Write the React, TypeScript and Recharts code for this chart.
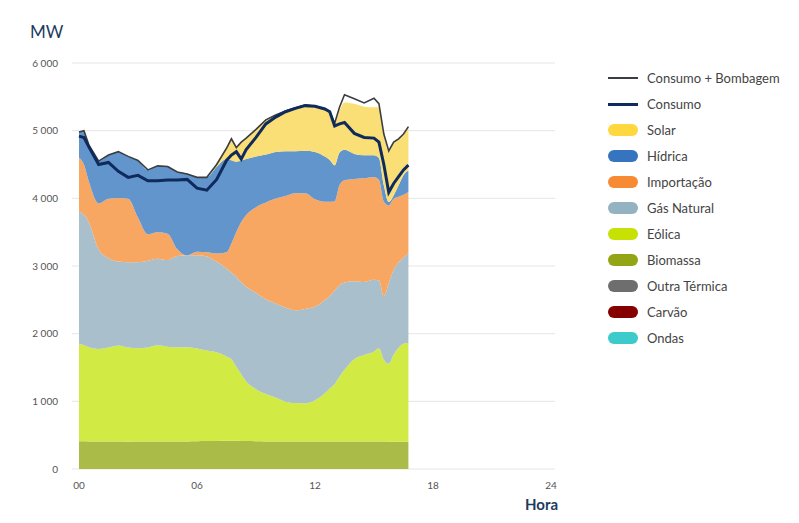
import React from 'react';
import { AreaChart, Area, Line, XAxis, YAxis, CartesianGrid } from 'recharts';

// hours of the day (quarter/half-hour samples)
const hours = [0, 0.25, 0.5, 1, 1.5, 2, 2.5, 3, 3.5, 4, 4.5, 5, 5.5, 6, 6.5, 7, 7.5, 7.75, 8, 8.25, 8.5,
  9, 9.5, 10, 10.5, 11, 11.5, 12, 12.5, 12.75, 13, 13.25, 13.5, 14, 14.5, 15, 15.25, 15.5, 15.75,
  16, 16.25, 16.5, 16.75];

const ondas = hours.map(() => 0);
const carvao = hours.map(() => 0);
const outraTermica = hours.map(() => 0);
const biomassa = [410, 410, 408, 405, 405, 405, 404, 405, 406, 408, 408, 408, 408, 410, 412, 415, 418, 418, 416, 414, 412,
  410, 408, 406, 405, 405, 405, 406, 408, 408, 408, 408, 407, 406, 405, 405, 405, 405, 404, 403, 402, 402, 402];
const eolica = [1440, 1420, 1390, 1370, 1390, 1420, 1390, 1380, 1390, 1420, 1400, 1390, 1390, 1370, 1340, 1310, 1245, 1205, 1095, 985, 880,
  770, 700, 650, 590, 570, 565, 610, 710, 780, 850, 960, 1060, 1220, 1280, 1330, 1380, 1210, 1150, 1290, 1390, 1450, 1460];
const gasNatural = [1950, 1930, 1850, 1470, 1320, 1240, 1260, 1270, 1280, 1280, 1280, 1350, 1360, 1380, 1390, 1340, 1300, 1280, 1330, 1360, 1400,
  1420, 1400, 1390, 1390, 1370, 1395, 1380, 1380, 1370, 1380, 1350, 1290, 1150, 1080, 1060, 1000, 940, 1190, 1250, 1260, 1270, 1330];
const importacao = [800, 740, 600, 680, 880, 940, 940, 660, 390, 390, 390, 100, 0, 50, 60, 120, 240, 430, 660, 890, 1060,
  1270, 1430, 1550, 1650, 1730, 1710, 1590, 1450, 1390, 1320, 1480, 1510, 1510, 1530, 1520, 1490, 1400, 1150, 1050, 970, 930, 900];
const hidrica = [380, 500, 540, 620, 640, 680, 620, 840, 950, 980, 1000, 1140, 1210, 1100, 1110, 1280, 1380, 1230, 1040, 910, 830,
  750, 710, 690, 660, 620, 630, 700, 670, 620, 530, 480, 450, 370, 340, 320, 320, 240, 50, 50, 170, 290, 320];
const solar = [0, 0, 0, 0, 0, 0, 0, 0, 0, 0, 0, 0, 0, 0, 0, 40, 160, 320, 210, 270, 310,
  400, 510, 540, 590, 640, 670, 670, 700, 710, 620, 620, 700, 740, 720, 710, 750, 750, 750, 780, 680, 600, 640];

const consumoBombagem = [4980, 5000, 4790, 4550, 4640, 4690, 4620, 4560, 4420, 4480, 4470, 4390, 4360, 4310, 4310, 4500, 4740, 4880, 4750, 4830, 4890,
  5020, 5160, 5230, 5290, 5340, 5380, 5360, 5320, 5280, 5110, 5350, 5530, 5470, 5410, 5480, 5400, 4950, 4700, 4830, 4880, 4950, 5060];
const consumo = [4920, 4900, 4760, 4500, 4530, 4400, 4310, 4340, 4260, 4260, 4270, 4270, 4280, 4150, 4120, 4280, 4560, 4640, 4690, 4580, 4720,
  4900, 5100, 5200, 5280, 5330, 5370, 5360, 5320, 5280, 5070, 5100, 5120, 4960, 4900, 4890, 4830, 4500, 4090, 4220, 4320, 4420, 4490];

const yTicks = [0, 1000, 2000, 3000, 4000, 5000, 6000];
const xTicks = [0, 6, 12, 18, 24];

// stacking order bottom → top
const AREAS = [
  { key: 'Ondas', values: ondas, fill: '#3fcfcf', swatch: '#3ccaca' },
  { key: 'Carvão', values: carvao, fill: '#8a0a0a', swatch: '#870000' },
  { key: 'Outra Térmica', values: outraTermica, fill: '#777777', swatch: '#6e6e6e' },
  { key: 'Biomassa', values: biomassa, fill: '#abbb48', swatch: '#93a514' },
  { key: 'Eólica', values: eolica, fill: '#d2ea44', swatch: '#c6e103' },
  { key: 'Gás Natural', values: gasNatural, fill: '#a9bfcb', swatch: '#93b3c3' },
  { key: 'Importação', values: importacao, fill: '#f8a763', swatch: '#f68b34' },
  { key: 'Hídrica', values: hidrica, fill: '#6395cd', swatch: '#3674bf' },
  { key: 'Solar', values: solar, fill: '#fadf76', swatch: '#fed83e' },
];

const data = hours.map((h, i) => {
  const row: Record<string, number> = { h, cb: consumoBombagem[i], consumo: consumo[i] };
  for (const a of AREAS) row[a.key] = a.values[i];
  return row;
});

const FONT = 'Lato, "Open Sans", sans-serif';

function ChartLegend() {
  const items = [
    { name: 'Consumo + Bombagem', kind: 'line', color: '#3a3d42', w: 2 },
    { name: 'Consumo', kind: 'line', color: '#0f2a5c', w: 3 },
    ...[...AREAS].reverse().map(a => ({ name: a.key, kind: 'area', color: a.swatch, w: 0 })),
  ];
  return (
    <div style={{ position: 'absolute', left: 608, top: 65, fontFamily: FONT, fontSize: 13, color: '#444' }}>
      {items.map(it => (
        <div key={it.name} style={{ display: 'flex', alignItems: 'center', height: 26 }}>
          {it.kind === 'line' ? (
            <span style={{ display: 'inline-block', width: 30, height: it.w, background: it.color }} />
          ) : (
            <span style={{ display: 'inline-block', width: 30, height: 12, borderRadius: 6, background: it.color }} />
          )}
          <span style={{ marginLeft: 9 }}>{it.name}</span>
        </div>
      ))}
    </div>
  );
}

const fmtY = (v: number) => (v >= 1000 ? `${Math.floor(v / 1000)} ${String(v % 1000).padStart(3, '0')}` : `${v}`);
const fmtX = (v: number) => String(v).padStart(2, '0');

export default function App() {
  return (
    <div style={{ position: 'absolute', left: 0, top: 0, width: 799, height: 523, background: '#fff' }}>
      <AreaChart width={799} height={523} data={data} margin={{ top: 63, right: 244, left: 0, bottom: 0 }}>
        <CartesianGrid vertical={false} stroke="#e6e6e6" />
        <XAxis
          type="number"
          dataKey="h"
          domain={[0, 24]}
          ticks={xTicks}
          tickFormatter={fmtX}
          padding={{ left: 7, right: 4 }}
          axisLine={false}
          tickLine={false}
          tickMargin={7}
          tick={{ fill: '#555', fontSize: 10, fontFamily: FONT }}
          height={54}
        />
        <YAxis
          domain={[0, 6000]}
          ticks={yTicks}
          tickFormatter={fmtY}
          axisLine={false}
          tickLine={false}
          tickMargin={8}
          width={72}
          tick={{ fill: '#555', fontSize: 10, fontFamily: FONT }}
        />
        {AREAS.map(a => (
          <Area
            key={a.key}
            type="monotone"
            dataKey={a.key}
            stackId="gen"
            fill={a.fill}
            fillOpacity={1}
            stroke="none"
            isAnimationActive={false}
          />
        ))}
        <Line type="linear" dataKey="cb" stroke="#3a3d42" strokeWidth={1.6} dot={false} activeDot={false} isAnimationActive={false} />
        <Line type="linear" dataKey="consumo" stroke="#0f2a5c" strokeWidth={3} dot={false} activeDot={false} isAnimationActive={false} />
      </AreaChart>
      <div style={{ position: 'absolute', left: 30, top: 21, fontFamily: FONT, fontSize: 17, color: '#1d3b5e' }}>MW</div>
      <div style={{ position: 'absolute', left: 525, top: 495, fontFamily: FONT, fontSize: 15, fontWeight: 700, color: '#1d3b5e' }}>Hora</div>
      <ChartLegend />
    </div>
  );
}
